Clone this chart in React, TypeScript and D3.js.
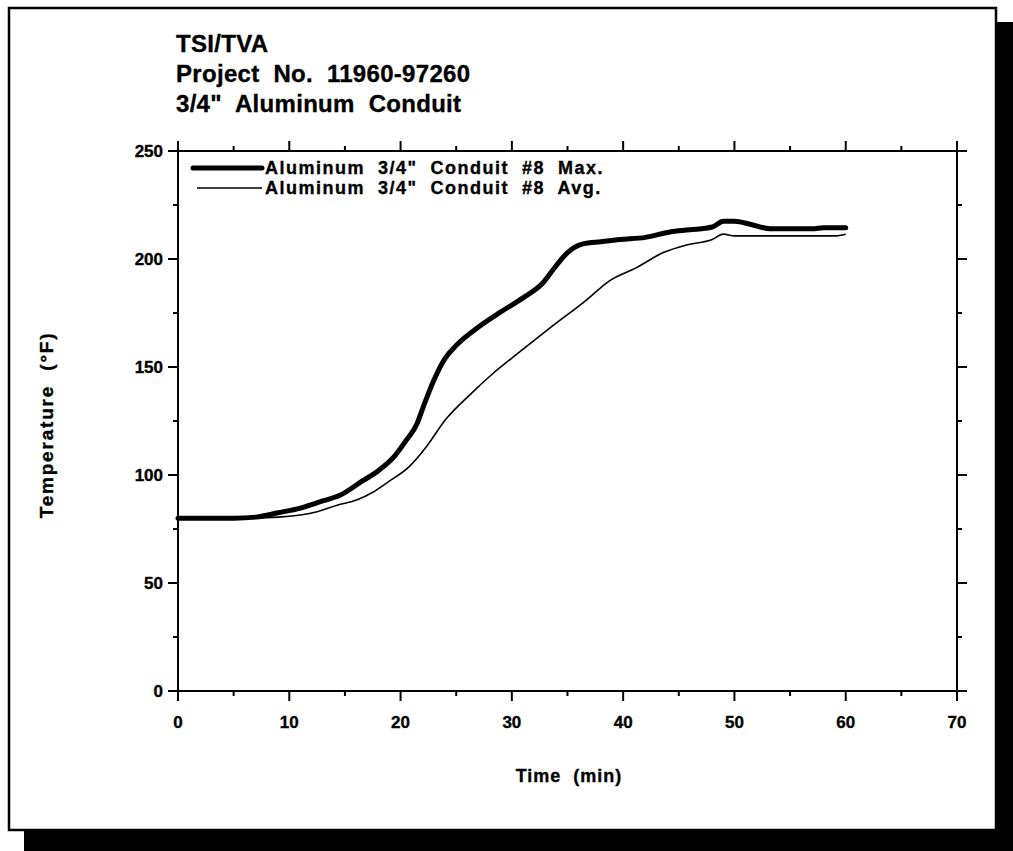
import React from "react";
import * as d3 from "d3";

const titleLines = ["TSI/TVA", "Project  No.  11960-97260", "3/4\"  Aluminum  Conduit"];
const xTicks = [0, 10, 20, 30, 40, 50, 60, 70];
const yTicks = [0, 50, 100, 150, 200, 250];
const seriesNames = ["Aluminum  3/4\"  Conduit  #8  Max.", "Aluminum  3/4\"  Conduit  #8  Avg."];

const maxT = [0, 5, 7, 9, 11, 13, 14.5, 16.5, 18, 19.5, 20.5, 21.5, 22, 23, 24, 25, 27, 29, 31, 32.8, 33.7, 35, 36.4, 38, 39.7, 42, 44.2, 46, 48, 49, 50, 51.5, 53.2, 57, 58, 60];
const maxV = [80, 80, 80.5, 82.5, 84.7, 88, 90.5, 97, 102, 109, 116, 124, 131, 144, 154, 160, 168.5, 175.5, 182, 189, 195, 203, 207, 208, 209, 210, 212.5, 213.5, 214.8, 217.5, 217.5, 216, 214, 214, 214.5, 214.5];

const avgT = [0, 5, 9, 11, 12.5, 14.3, 16.1, 17.5, 18.8, 20.8, 22.3, 24.1, 26.2, 28.3, 30.7, 33.4, 36.7, 38.8, 41.2, 43.6, 45.7, 48, 49, 50, 55, 59, 60];
const avgV = [80, 80, 80.5, 81.5, 83, 86, 88.5, 92, 96.5, 104, 113, 126, 137, 147, 157, 168, 181, 190, 196, 203, 206.5, 209, 211.5, 210.7, 210.7, 210.7, 211.5];

const W = 1013;
const H = 851;
const m = { left: 178, right: 957, top: 151, bottom: 691 };

export default function App() {
  const x = d3.scaleLinear().domain([0, 70]).range([m.left, m.right]);
  const y = d3.scaleLinear().domain([0, 250]).range([m.bottom, m.top]);
  const line = d3
    .line<[number, number]>()
    .x((d) => x(d[0]))
    .y((d) => y(d[1]))
    .curve(d3.curveMonotoneX);
  const maxData: [number, number][] = maxT.map((t, i) => [t, maxV[i]]);
  const avgData: [number, number][] = avgT.map((t, i) => [t, avgV[i]]);

  const xMinor = d3.range(0, 71, 5).filter((v) => v % 10 !== 0);
  const yMinor = d3.range(0, 251, 25).filter((v) => v % 50 !== 0);
  const font = "'Liberation Sans', Arial, Helvetica, sans-serif";
  const major = 10;
  const minor = 5;
  const heavy = { stroke: "#000", strokeWidth: 0.35 };

  return (
    <svg width={W} height={H} style={{ position: "absolute", left: 0, top: 0 }} fontFamily={font}>
      <rect x={0} y={0} width={W} height={H} fill="#fff" />
      {/* shadow */}
      <rect x={996} y={22} width={W - 996} height={H - 22} fill="#000" />
      <rect x={24} y={830} width={W - 24} height={H - 830} fill="#000" />
      {/* frame */}
      <rect x={9} y={8} width={987} height={822} fill="none" stroke="#000" strokeWidth={2.5} />

      {/* title */}
      {titleLines.map((t, i) => (
        <text
          key={i}
          x={176}
          y={52 + i * 30}
          fontSize={24}
          fontWeight="bold"
          letterSpacing={0.3}
          {...heavy}
          style={{ whiteSpace: "pre" }}
        >
          {t}
        </text>
      ))}

      {/* plot box */}
      <rect
        x={m.left}
        y={m.top}
        width={m.right - m.left}
        height={m.bottom - m.top}
        fill="none"
        stroke="#000"
        strokeWidth={2}
      />

      {/* x ticks bottom & top */}
      {xTicks.map((v) => (
        <g key={"xt" + v}>
          <line x1={x(v)} x2={x(v)} y1={m.bottom} y2={m.bottom + major} stroke="#000" strokeWidth={2} />
          <line x1={x(v)} x2={x(v)} y1={m.top} y2={m.top - major} stroke="#000" strokeWidth={2} />
          <text x={x(v)} y={728} textAnchor="middle" fontSize={17} fontWeight="bold" {...heavy}>
            {v}
          </text>
        </g>
      ))}
      {xMinor.map((v) => (
        <g key={"xm" + v}>
          <line x1={x(v)} x2={x(v)} y1={m.bottom} y2={m.bottom + minor} stroke="#000" strokeWidth={2} />
          <line x1={x(v)} x2={x(v)} y1={m.top} y2={m.top - minor} stroke="#000" strokeWidth={2} />
        </g>
      ))}

      {/* y ticks left & right */}
      {yTicks.map((v) => (
        <g key={"yt" + v}>
          <line x1={m.left} x2={m.left - major} y1={y(v)} y2={y(v)} stroke="#000" strokeWidth={2} />
          <line x1={m.right} x2={m.right + major} y1={y(v)} y2={y(v)} stroke="#000" strokeWidth={2} />
          <text x={163} y={y(v) + 6} textAnchor="end" fontSize={17} fontWeight="bold" {...heavy}>
            {v}
          </text>
        </g>
      ))}
      {yMinor.map((v) => (
        <g key={"ym" + v}>
          <line x1={m.left} x2={m.left - minor} y1={y(v)} y2={y(v)} stroke="#000" strokeWidth={2} />
          <line x1={m.right} x2={m.right + minor} y1={y(v)} y2={y(v)} stroke="#000" strokeWidth={2} />
        </g>
      ))}

      {/* axis titles */}
      <text x={569} y={782} textAnchor="middle" fontSize={18} fontWeight="bold" letterSpacing={1} {...heavy} style={{ whiteSpace: "pre" }}>
        {"Time  (min)"}
      </text>
      <text
        transform={`translate(53, ${425}) rotate(-90)`}
        textAnchor="middle"
        fontSize={19}
        fontWeight="bold"
        letterSpacing={1.8}
        {...heavy}
        style={{ whiteSpace: "pre" }}
      >
        {"Temperature  (°F)"}
      </text>

      {/* series */}
      <path d={line(maxData) || ""} fill="none" stroke="#000" strokeWidth={5} strokeLinejoin="round" strokeLinecap="round" />
      <path d={line(avgData) || ""} fill="none" stroke="#000" strokeWidth={1.6} strokeLinejoin="round" />

      {/* legend */}
      <line x1={193} x2={262} y1={168} y2={168} stroke="#000" strokeWidth={5} strokeLinecap="round" />
      <text x={265} y={174} fontSize={18} fontWeight="bold" letterSpacing={1.5} {...heavy} style={{ whiteSpace: "pre" }}>
        {seriesNames[0]}
      </text>
      <line x1={197} x2={262} y1={188} y2={188} stroke="#000" strokeWidth={1.6} />
      <text x={265} y={194} fontSize={18} fontWeight="bold" letterSpacing={1.5} {...heavy} style={{ whiteSpace: "pre" }}>
        {seriesNames[1]}
      </text>
    </svg>
  );
}
